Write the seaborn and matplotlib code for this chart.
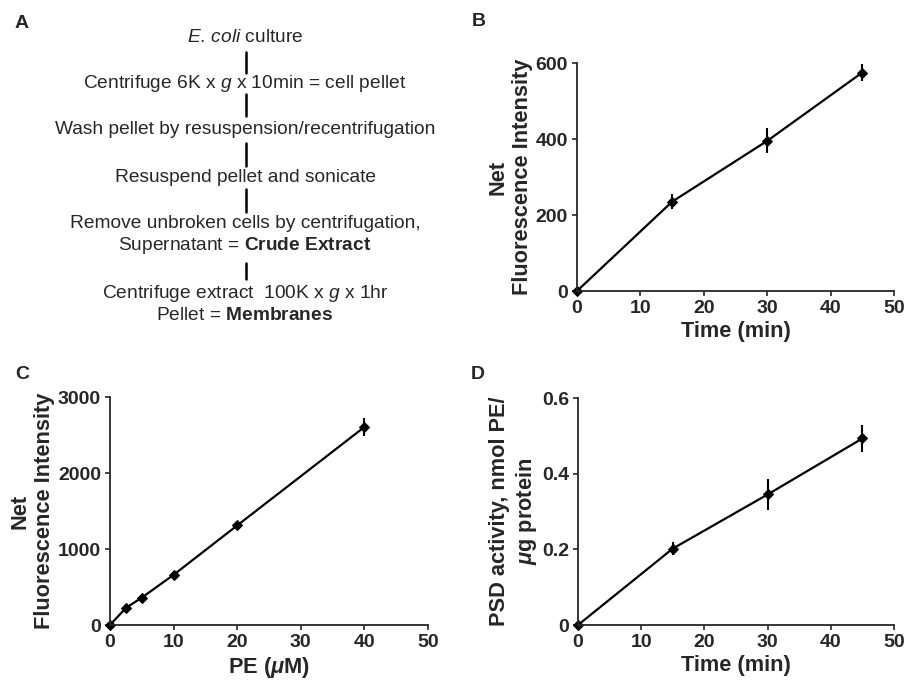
import matplotlib
matplotlib.use("Agg")
import matplotlib.pyplot as plt
import seaborn as sns
import pandas as pd
from matplotlib.ticker import FuncFormatter

# ---------------- data ----------------
b_time = [0, 15, 30, 45]
b_fluor = [0, 235, 395, 575]
b_err = [0, 20, 33, 22]

c_pe = [0, 2.5, 5, 10, 20, 40]
c_fluor = [0, 225, 360, 660, 1310, 2605]
c_err = [0, 30, 30, 35, 35, 120]

d_time = [0, 15, 30, 45]
d_act = [0, 0.202, 0.345, 0.493]
d_err = [0, 0.017, 0.040, 0.036]

flow_lines = [
    r"$\mathit{E.\,coli}$ culture",
    r"Centrifuge 6K x $\mathit{g}$ x 10min = cell pellet",
    "Wash pellet by resuspension/recentrifugation",
    "Resuspend pellet and sonicate",
    "Remove unbroken cells by centrifugation,",
    r"Supernatant = $\mathbf{Crude}$ $\mathbf{Extract}$",
    r"Centrifuge extract  100K x $\mathit{g}$ x 1hr",
    r"Pellet = $\mathbf{Membranes}$",
]
flow_y = [37, 84, 130, 177, 223, 246, 293, 316]
bar_spans = [(52, 73), (94, 116), (143, 166), (189, 212), (263, 279)]

# ---------------- style ----------------
sns.set_style("ticks")
plt.rcParams["font.family"] = ["Liberation Sans", "DejaVu Sans"]
plt.rcParams["mathtext.fontset"] = "custom"
plt.rcParams["mathtext.rm"] = "Liberation Sans"
plt.rcParams["mathtext.it"] = "Liberation Sans:italic"
plt.rcParams["mathtext.bf"] = "Liberation Sans:bold"
plt.rcParams["mathtext.bfit"] = "Liberation Sans:bold:italic"

W, H = 905, 681
fig = plt.figure(figsize=(W / 100, H / 100), dpi=100)


def px_axes(left, top, right, bottom):
    return fig.add_axes([left / W, 1 - bottom / H, (right - left) / W, (bottom - top) / H])


def fmt(v, pos):
    return "%g" % v


def draw_panel(ax, x, y, err, xlabel, ylabel, ymax, yticks, labelpad):
    df = pd.DataFrame({"x": x, "y": y})
    sns.lineplot(data=df, x="x", y="y", ax=ax, color="black", linewidth=1.6,
                 marker="D", markersize=5.5, markeredgecolor="black", clip_on=False)
    ax.errorbar(x, y, yerr=err, fmt="none", ecolor="black", elinewidth=1.5,
                capsize=0, clip_on=False)
    ax.set_xlim(0, 50)
    ax.set_ylim(0, ymax)
    ax.set_xticks([0, 10, 20, 30, 40, 50])
    ax.set_yticks(yticks)
    ax.yaxis.set_major_formatter(FuncFormatter(fmt))
    sns.despine(ax=ax)
    for s in ("left", "bottom"):
        ax.spines[s].set_linewidth(1.3)
    ax.tick_params(axis="both", direction="out", length=3.5, width=1.2,
                   labelsize=14, pad=3)
    for lab in ax.get_xticklabels() + ax.get_yticklabels():
        lab.set_fontweight("bold")
    ax.set_xlabel(xlabel, fontsize=15.7, fontweight="bold", labelpad=3)
    ax.set_ylabel(ylabel, fontsize=15.7, fontweight="bold", labelpad=labelpad,
                  linespacing=1.2)


# Panel A: flowchart (axes in pixel units)
ax_a = px_axes(0, 0, 470, 340)
ax_a.set_xlim(0, 470)
ax_a.set_ylim(340, 0)
ax_a.axis("off")
for txt, yy in zip(flow_lines, flow_y):
    ax_a.text(245, yy, txt, ha="center", va="center", fontsize=13.8)
for y0, y1 in bar_spans:
    ax_a.plot([245.5, 245.5], [y0, y1], color="black", linewidth=1.8)

# Panel B
ax_b = px_axes(577, 63, 894, 291)
draw_panel(ax_b, b_time, b_fluor, b_err, "Time (min)",
           "Net\nFluorescence Intensity", 600, [0, 200, 400, 600], 2)

# Panel C
ax_c = px_axes(110, 397, 428, 625)
draw_panel(ax_c, c_pe, c_fluor, c_err, r"PE ($\mathbfit{\mu}$M)",
           "Net\nFluorescence Intensity", 3000, [0, 1000, 2000, 3000], 2)

# Panel D
ax_d = px_axes(578, 398, 894, 625)
draw_panel(ax_d, d_time, d_act, d_err, "Time (min)",
           "PSD activity, nmol PE/\n" + r"$\mathbfit{\mu}$g protein", 0.6,
           [0, 0.2, 0.4, 0.6], 2)

# Panel letters
for letter, (px, py) in zip("ABCD", [(22, 23), (479, 21), (22, 375), (478, 375)]):
    fig.text(px / W, 1 - py / H, letter, fontsize=14, fontweight="bold",
             ha="center", va="center")

fig.savefig("out.png", dpi=100)
